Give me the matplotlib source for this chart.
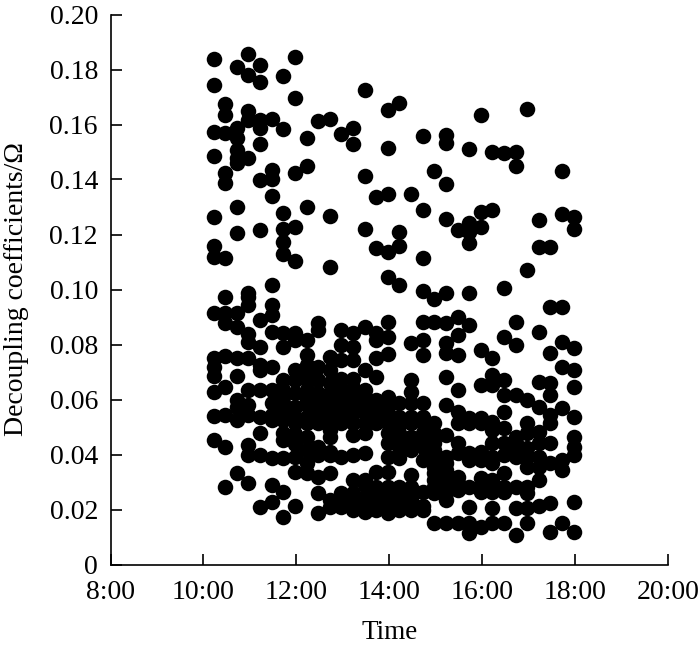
import matplotlib
matplotlib.use("Agg")
import matplotlib.pyplot as plt

plt.rcParams['font.family'] = ['Liberation Serif', 'DejaVu Serif']

tick_hours = [8, 10, 12, 14, 16, 18, 20]
tick_labels = ["8:00", "10:00", "12:00", "14:00", "16:00", "18:00", "20:00"]
y_ticks = [0, 0.02, 0.04, 0.06, 0.08, 0.10, 0.12, 0.14, 0.16, 0.18, 0.20]
y_labels = ["0", "0.02", "0.04", "0.06", "0.08", "0.10", "0.12", "0.14", "0.16", "0.18", "0.20"]

times = [10.22, 10.47, 10.72, 10.97, 11.22, 11.47, 11.72, 11.97,
         12.22, 12.47, 12.72, 12.97, 13.22, 13.47, 13.72, 13.97,
         14.22, 14.47, 14.72, 14.97, 15.22, 15.47, 15.72, 15.97,
         16.22, 16.47, 16.72, 16.97, 17.22, 17.47, 17.72, 17.97]

c00 = [.1838, .1744, .1572, .1485, .1264, .1158, .112, .0913, .0750, .072, .0685, .0628, .054, .0453]
c01 = [.1675, .1635, .1568, .1423, .1386, .1113, .0971, .0913, .0877, .0759, .0647, .0544, .0429, .0283]
c02 = [.181, .1586, .155, .1507, .148, .1459, .1299, .1204, .0913, .0865, .075, .0685, .0598, .0574, .0525, .0331]
c03 = [.1856, .178, .165, .1616, .148, .0987, .0974, .0944, .084, .081, .075, .0635, .058, .0544, .0435, .0398, .0295]
c04 = [.1816, .1756, .1616, .1586, .1528, .1398, .1216, .0889, .0792, .0725, .0707, .0635, .0537, .0477, .0398, .021]
c05 = [.1619, .1435, .14, .1341, .1016, .0944, .0907, .0847, .0719, .0635, .0586, .0544, .0525, .0386, .0289, .0229]
c06 = [.1776, .1583, .1277, .1219, .1174, .1129, .0841, .0792, .067, .0635, .061, .0586, .0561, .0525, .0477, .0453, .0386, .0265, .0174]
c07 = [.1847, .1695, .1423, .1226, .1105, .0841, .0816, .0707, .0671, .0622, .0574, .0537, .0513, .0476, .044, .0392, .0338, .0213]
c08 = [.155, .1449, .1301, .0816, .0762, .0725, .0695, .0671, .0635, .06, .058, .0537, .0513, .0465, .0416, .0368, .0331]
c09 = [.1614, .0877, .0853, .072, .0671, .0622, .0598, .0574, .055, .0525, .0513, .0428, .0398, .032, .0259, .0186]
c10 = [.162, .1267, .1083, .0756, .0707, .066, .0622, .0592, .0574, .055, .0513, .0489, .0465, .041, .04, .0331, .0235, .021]
c11 = [.1566, .0853, .0798, .0744, .0675, .0635, .061, .0586, .0561, .0537, .0513, .0392, .0259, .0235, .021]
c12 = [.1588, .1528, .0841, .0792, .0744, .0675, .0641, .061, .0586, .0561, .055, .0513, .0471, .0398, .0307, .0259, .0235, .0222, .0198]
c13 = [.1725, .1414, .122, .0865, .0707, .0635, .061, .058, .055, .0513, .0477, .0404, .0307, .0289, .0247, .0222, .0192]
c14 = [.1337, .115, .0841, .0816, .075, .0683, .0598, .0574, .055, .0513, .0338, .0283, .0259, .0222, .0198]
c15 = [.1653, .1513, .1347, .1137, .1047, .0883, .0826, .0764, .061, .0574, .0544, .0513, .0477, .0441, .0392, .0338, .0283, .0247, .0222, .0186]
c16 = [.1677, .1208, .1158, .1016, .0586, .0538, .0507, .0477, .0465, .0428, .0386, .0283, .0265, .0222, .021, .0198]
c17 = [.1346, .0804, .067, .0628, .0586, .0538, .0513, .0465, .0441, .0416, .0325, .0283, .0265, .024, .021, .0198]
c18 = [.1558, .1289, .1113, .0995, .0883, .0816, .0762, .0586, .0538, .0513, .0477, .0441, .0428, .038, .0265, .0211, .0198]
c19 = [.1432, .0964, .0883, .0513, .0477, .0441, .0416, .0392, .0368, .0356, .0332, .0307, .0283, .0259, .015]
c20 = [.1562, .1534, .1383, .1255, .0986, .0877, .0804, .0768, .0683, .058, .047, .0392, .0368, .0344, .032, .0295, .0283, .0259, .0235, .015]
c21 = [.1216, .0901, .0834, .0762, .0634, .0556, .0513, .0441, .0404, .032, .0295, .0271, .015]
c22 = [.151, .1242, .121, .117, .0988, .0871, .0534, .0513, .0404, .038, .0283, .021, .015, .0113]
c23 = [.1635, .1283, .1228, .078, .0653, .0531, .0513, .041, .038, .0313, .0283, .0265, .0137]
c24 = [.1499, .1289, .075, .0689, .0653, .0519, .0489, .0441, .0392, .0368, .0307, .0283, .0265, .0204, .015]
c25 = [.1497, .1004, .0828, .0671, .0616, .0556, .0495, .0441, .0398, .0332, .0283, .0265, .015]
c26 = [.1499, .145, .0883, .08, .0616, .0465, .0441, .0416, .0392, .0283, .0204, .0107]
c27 = [.1656, .1071, .0598, .0513, .0477, .0422, .0392, .0356, .0283, .0259, .0204, .015]
c28 = [.1253, .1153, .0847, .0665, .0574, .0483, .0441, .0392, .0356, .0307, .0211]
c29 = [.1156, .0937, .0768, .0659, .0616, .0544, .0513, .0441, .0368, .0222, .0119]
c30 = [.1432, .1275, .0937, .081, .0719, .0568, .038, .0344, .015]
c31 = [.1265, .122, .0786, .0707, .0644, .0538, .0465, .0428, .0398, .0228, .0119]

columns = [c00, c01, c02, c03, c04, c05, c06, c07, c08, c09, c10, c11, c12, c13, c14, c15,
           c16, c17, c18, c19, c20, c21, c22, c23, c24, c25, c26, c27, c28, c29, c30, c31]

W, H = 700, 650
fig = plt.figure(figsize=(W / 100, H / 100), dpi=100)
ax = fig.add_axes([110.5 / W, 1 - 564.5 / H, 557.5 / W, 550 / H])

for t, col in zip(times, columns):
    ax.scatter([t] * len(col), col, s=125, color="black", linewidths=0, zorder=3, clip_on=False)

ax.set_xlim(8, 20)
ax.set_ylim(0, 0.20)
ax.set_xticks(tick_hours)
ax.set_xticklabels(tick_labels)
ax.set_yticks(y_ticks)
ax.set_yticklabels(y_labels)
for s in ("top", "right"):
    ax.spines[s].set_visible(False)
for s in ("left", "bottom"):
    ax.spines[s].set_linewidth(1.2)
ax.tick_params(axis="both", direction="in", length=8, width=1.2, labelsize=20)
ax.tick_params(axis="x", pad=11)
ax.tick_params(axis="y", pad=9)
ax.set_xlabel("Time", fontsize=19.5, labelpad=11)
ax.set_ylabel("Decoupling coefficients/Ω", fontsize=20, labelpad=15)

fig.savefig("out.png", dpi=100)
